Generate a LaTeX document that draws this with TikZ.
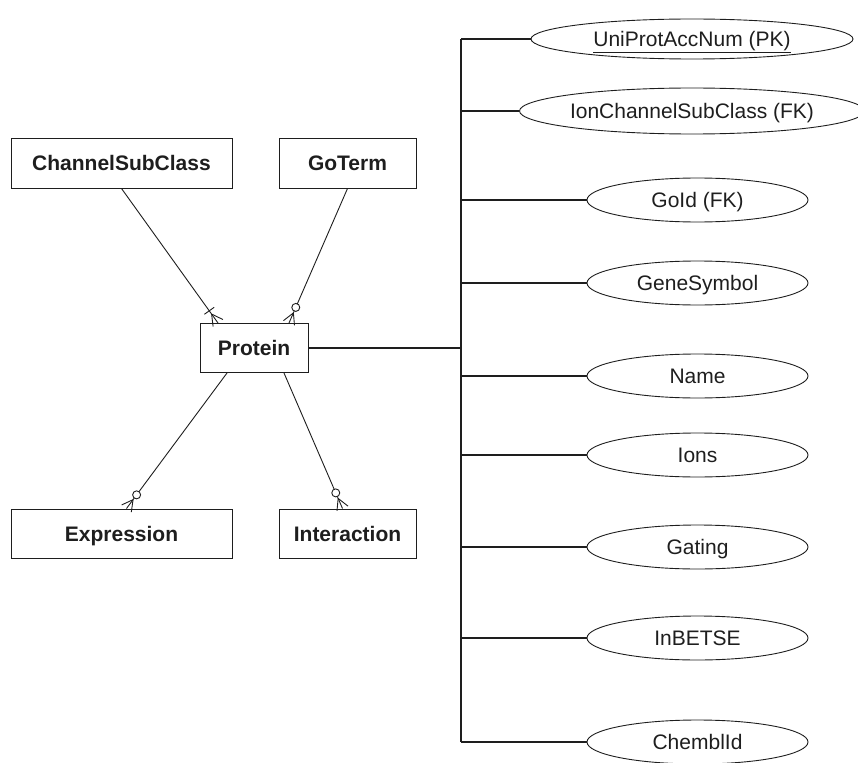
\documentclass[tikz,border=0pt]{standalone}
\usepackage{fontspec}
\setmainfont{Liberation Sans}
\usetikzlibrary{calc,shapes.geometric}
\definecolor{ink}{HTML}{1E1E1E}
\tikzset{
  entity/.style={draw=ink, line width=1pt, rectangle, inner sep=0pt,
    text height=15pt, text depth=0pt,
    font=\fontsize{21}{25}\selectfont\bfseries, text=ink},
  attr/.style={draw=ink, line width=0.9pt, ellipse, inner sep=0pt,
    text height=15pt, text depth=0pt,
    minimum width=221pt, minimum height=44pt,
    font=\fontsize{21}{25}\selectfont, text=ink},
  rel/.style={draw=ink, line width=0.9pt},
  trunk/.style={draw=ink, line width=1.8pt},
}
% crow's foot at entity end #1, line coming from #2
\newcommand\crowfoot[2]{%
  \coordinate (cf) at ($(#1)!11pt!(#2)$);
  \draw[rel] (cf) -- ($(#1)!6pt!90:(#2)$);
  \draw[rel] (cf) -- ($(#1)!6pt!-90:(#2)$);
}
% optional (zero) marker
\newcommand\zeromark[2]{%
  \draw[rel, fill=white] ($(#1)!17pt!(#2)$) circle (4pt);
}
% mandatory (one) marker
\newcommand\onemark[2]{%
  \coordinate (om) at ($(#1)!15pt!(#2)$);
  \draw[rel] ($(om)!6pt!90:(#2)$) -- ($(om)!6pt!-90:(#2)$);
}
\begin{document}
\begin{tikzpicture}[x=1pt, y=-1pt]
\useasboundingbox (0,0) rectangle (858,762);

% entities
\node[entity, minimum width=221pt, minimum height=49pt] (csc) at (121.5,163.5) {ChannelSubClass};
\node[entity, minimum width=137pt, minimum height=49pt] (go) at (347.5,163.5) {GoTerm};
\node[entity, minimum width=108pt, minimum height=49pt] (protein) at (254,348) {Protein};
\node[entity, minimum width=221pt, minimum height=49pt] (expr) at (121.5,533.5) {Expression};
\node[entity, minimum width=137pt, minimum height=49pt] (inter) at (347.5,533.5) {Interaction};

% attributes
\node[attr, minimum width=322pt, minimum height=40pt] (uni) at (692,39) {\underline{UniProtAccNum (PK)}};
\node[attr, minimum width=322pt, minimum height=46pt] (ion) at (692,111) {IonChannelSubClass (FK)};
\node[attr] (goid) at (697.5,200) {GoId (FK)};
\node[attr] (gene) at (697.5,283) {GeneSymbol};
\node[attr] (name) at (697.5,376) {Name};
\node[attr] (ions) at (697.5,455) {Ions};
\node[attr] (gating) at (697.5,547) {Gating};
\node[attr] (inbetse) at (697.5,638) {InBETSE};
\node[attr] (chembl) at (697.5,742) {ChemblId};

% attribute trunk
\coordinate (tt) at (461,39);
\coordinate (tb) at (461,742);
\draw[trunk] (tt) -- (tb);
\draw[trunk] (protein.east) -- (protein.east -| tt);
\foreach \a in {uni,ion,goid,gene,name,ions,gating,inbetse,chembl}
  \draw[trunk] (\a.west -| tt) -- (\a.west);

% relationships
\coordinate (s1) at (csc.south);
\coordinate (e1) at ([xshift=-36pt]protein.north);
\draw[rel] (s1) -- (e1);
\crowfoot{e1}{s1}
\onemark{e1}{s1}

\coordinate (s2) at (go.south);
\coordinate (e2) at ([xshift=35pt]protein.north);
\draw[rel] (s2) -- (e2);
\crowfoot{e2}{s2}
\zeromark{e2}{s2}

\coordinate (s3) at ([xshift=-27pt]protein.south);
\coordinate (e3) at ([xshift=5pt]expr.north);
\draw[rel] (s3) -- (e3);
\crowfoot{e3}{s3}
\zeromark{e3}{s3}

\coordinate (s4) at ([xshift=30pt]protein.south);
\coordinate (e4) at ([xshift=-5pt]inter.north);
\draw[rel] (s4) -- (e4);
\crowfoot{e4}{s4}
\zeromark{e4}{s4}
\end{tikzpicture}
\end{document}
